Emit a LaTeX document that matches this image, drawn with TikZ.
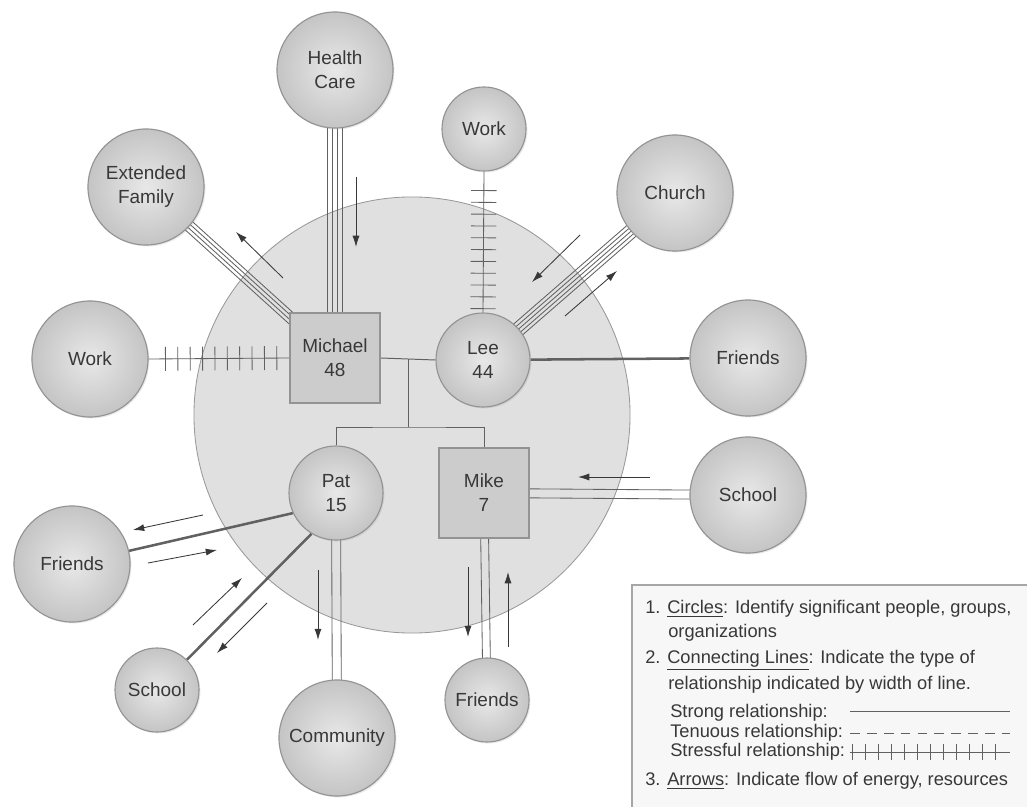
\documentclass[tikz,border=0pt]{standalone}
\usepackage{fontspec}
\setmainfont{Liberation Sans}
\usepackage{tikz}
\usetikzlibrary{calc}
\usetikzlibrary{arrows.meta,decorations.markings,shadows}

\pgfdeclarelayer{household}
\pgfdeclarelayer{links}
\pgfsetlayers{household,links,main}

\definecolor{ink}{gray}{0.22}
\definecolor{linegray}{gray}{0.38}

\tikzset{
	member/.style={circle, draw=gray!85, line width=0.8pt, shading=radial,
		inner color=gray!18, outer color=gray!46, text=ink, align=center,
		inner sep=0pt, font=\fontsize{13.5}{17}\selectfont,
		drop shadow={opacity=0.18, shadow xshift=1pt, shadow yshift=-1pt}},
	bigsys/.style={member, minimum size=2.9cm},
	smallsys/.style={member, minimum size=2.1cm},
	female/.style={member, minimum size=2.35cm},
	male/.style={rectangle, draw=gray!85, line width=0.9pt, fill=gray!40,
		text=ink, align=center, inner sep=0pt, minimum size=2.25cm,
		font=\fontsize{13.5}{17}\selectfont,
		drop shadow={opacity=0.18, shadow xshift=1pt, shadow yshift=-1pt}},
	household/.style={circle, draw=gray!80, line width=0.6pt, fill=gray!24,
		inner sep=0pt, minimum size=10.9cm},
	link/.style={draw=linegray, line width=0.6pt},
	strong/.style={draw=linegray, line width=1.8pt},
	family/.style={draw=linegray, line width=0.7pt},
	stress/.style n args={3}{link, decoration={markings,
			mark=between positions #1 and -2pt step #2 with
			{\draw[link] (0,-#3) -- (0,#3);}}, postaction={decorate}},
	flow/.style={draw=ink, line width=0.6pt, -{Latex[length=8pt,width=5pt]}},
	legtext/.style={anchor=west, inner sep=0pt, text=ink,
		font=\fontsize{13}{16}\selectfont},
	legendbox/.style={draw=gray!70, line width=0.8pt, fill=gray!6}
}

% several parallel lines between two nodes
\newcommand{\parlink}[3]{%
	\foreach \off in {#1}
	\draw[link] ($(#2)!\off!90:(#3)$) -- ($(#3)!\off!-90:(#2)$);
}

\begin{document}
\begin{tikzpicture}[x=0.025cm, y=-0.025cm]
	\useasboundingbox (0,0) rectangle (1027,807);
	
	% household circle
	\begin{pgfonlayer}{household}
		\node[household] (H) at (412,415) {};
	\end{pgfonlayer}
	
	% family members
	\node[male] (M) at (335,358) {Michael\\48};
	\node[female] (L) at (483,360) {Lee\\44};
	\node[female] (P) at (336,493) {Pat\\15};
	\node[male] (K) at (484,493) {Mike\\7};
	
	% outside systems
	\node[bigsys] (HC) at (335,70) {Health\\Care};
	\node[smallsys] (WT) at (484,129) {Work};
	\node[bigsys] (EF) at (146,187) {Extended\\Family};
	\node[bigsys] (CH) at (675,193) {Church};
	\node[bigsys] (WL) at (90,359) {Work};
	\node[bigsys] (FR) at (748,358) {Friends};
	\node[bigsys] (SR) at (748,495) {School};
	\node[bigsys] (FL) at (72,564) {Friends};
	\node[smallsys] (SL) at (157,690) {School};
	\node[bigsys] (CO) at (337,738) {Community};
	\node[smallsys] (FB) at (487,700) {Friends};
	
	\begin{pgfonlayer}{links}
		% strong ties, one line each
		\parlink{-5.3pt,-1.8pt,1.8pt,5.3pt}{M}{HC}
		\parlink{-3.9pt,-1.3pt,1.3pt,3.9pt}{M}{EF}
		\parlink{-5pt,-2.5pt,0pt,2.5pt,5pt}{L}{CH}
		\parlink{-3.2pt,3.2pt}{K}{SR}
		\parlink{-2.8pt,2.8pt}{K}{FB}
		\parlink{-3.2pt,3.2pt}{P}{CO}
		\draw[strong] (L) -- (FR);
		\draw[strong] (P.205) -- (FL);
		\draw[strong] (P.239) -- (SL);
		
		% stressful ties
		\draw[stress={12pt}{8.8pt}{8.5pt}] (WL.east) -- (M.west);
		\draw[stress={13.5pt}{8.4pt}{9pt}] (WT.south) -- (L.north);
		
		% marriage and children
		\draw[family] (M.east) -- coordinate (J) (L.west);
		\coordinate (B) at ($(J)+(0,68)$);
		\draw[family] (J) -- (B);
		\draw[family] (P.north) |- (B) -| (K.north);
	\end{pgfonlayer}
	
	% flow of energy
	\draw[flow] (283,278) -- (236,232);
	\draw[flow] (356,177) -- (356,247);
	\draw[flow] (580,235) -- (532,282);
	\draw[flow] (565,316) -- (617,271);
	\draw[flow] (650,477) -- (578,477);
	\draw[flow] (468,567) -- (468,637);
	\draw[flow] (508,647) -- (508,572);
	\draw[flow] (318,570) -- (318,640);
	\draw[flow] (203,515) -- (133,530);
	\draw[flow] (148,563) -- (217,550);
	\draw[flow] (193,625) -- (242,578);
	\draw[flow] (267,603) -- (217,653);
	
	% legend
	\draw[legendbox] (632,585) rectangle (1040,820);
	\node[legtext] (T1) at (645,609) {1. \underline{Circles}: Identify significant people, groups,};
	\node[legtext] (T2) at (668,633) {organizations};
	\node[legtext] (T3) at (645,660) {2. \underline{Connecting Lines}: Indicate the type of};
	\node[legtext] (T4) at (668,685) {relationship indicated by width of line.};
	\node[legtext] (T5) at (670,713) {Strong relationship:};
	\node[legtext] (T6) at (670,733) {Tenuous relationship:};
	\node[legtext] (T7) at (670,752) {Stressful relationship:};
	\node[legtext] (T8) at (645,781) {3. \underline{Arrows}: Indicate flow of energy, resources};
	\draw[link] (850,711) -- (1010,711);
	\draw[link, dash pattern=on 7pt off 5pt] (850,733) -- (1010,733);
	\draw[stress={2pt}{9.2pt}{5.5pt}] (850,752) -- (1010,752);
\end{tikzpicture}
\end{document}
